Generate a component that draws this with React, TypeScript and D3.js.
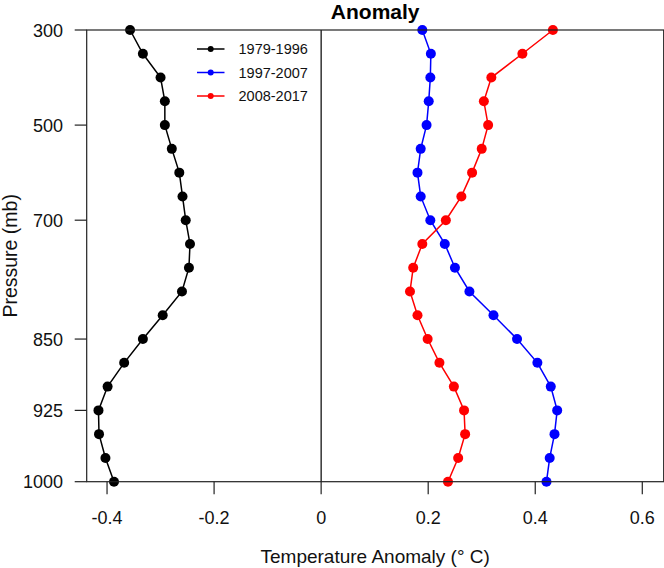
import React from "react";
import * as d3 from "d3";

const levels = [300, 350, 400, 450, 500, 550, 600, 650, 700, 750, 775, 800, 825, 850, 875, 900, 925, 950, 975, 1000];
const tickLevels = [300, 500, 700, 850, 925, 1000];
const xTicks = [-0.4, -0.2, 0, 0.2, 0.4, 0.6];
const xTickLabels = ["-0.4", "-0.2", "0", "0.2", "0.4", "0.6"];

const series1979 = [-0.357, -0.333, -0.300, -0.292, -0.292, -0.279, -0.265, -0.259, -0.253, -0.245, -0.247, -0.260, -0.296, -0.333, -0.368, -0.399, -0.416, -0.415, -0.403, -0.387];
const series1997 = [0.189, 0.205, 0.204, 0.201, 0.197, 0.186, 0.180, 0.186, 0.204, 0.231, 0.250, 0.277, 0.322, 0.366, 0.404, 0.429, 0.441, 0.436, 0.427, 0.421];
const series2008 = [0.433, 0.376, 0.318, 0.304, 0.312, 0.300, 0.282, 0.262, 0.233, 0.189, 0.172, 0.166, 0.180, 0.199, 0.221, 0.248, 0.267, 0.269, 0.256, 0.237];

const seriesNames = ["1979-1996", "1997-2007", "2008-2017"];
const seriesColors = ["#000000", "#0000ff", "#ff0000"];
const allSeries = [series1979, series1997, series2008];

const W = 664;
const H = 568;
const left = 86.7;
const right = 663.7;
const top = 30;
const bottom = 481.7;

export default function App() {
  const x = d3.scaleLinear().domain([-0.438, 0.64]).range([left, right]);
  const y = d3.scalePoint<number>().domain(levels).range([top, bottom]);
  const font = "Arial, 'Liberation Sans', sans-serif";

  const line = (vals: number[]) =>
    d3.line<number>()
      .x((d) => x(d))
      .y((_, i) => y(levels[i]) as number)(vals) as string;

  return (
    <svg width={W} height={H} style={{ position: "absolute", left: 0, top: 0, display: "block", background: "#fff" }} fontFamily={font}>
      <rect x={0} y={0} width={W} height={H} fill="#fff" />
      {/* zero line */}
      <line x1={x(0)} x2={x(0)} y1={top} y2={bottom} stroke="#000" strokeWidth={1.2} />
      {/* series */}
      {allSeries.map((vals, s) => (
        <g key={s}>
          <path d={line(vals)} fill="none" stroke={seriesColors[s]} strokeWidth={1.5} />
          {vals.map((v, i) => (
            <circle key={i} cx={x(v)} cy={y(levels[i]) as number} r={5} fill={seriesColors[s]} />
          ))}
        </g>
      ))}
      {/* frame */}
      <rect x={left} y={top} width={right - left} height={bottom - top} fill="none" stroke="#222" strokeWidth={1.2} />
      {/* y axis ticks */}
      {tickLevels.map((lv) => (
        <g key={lv}>
          <line x1={left - 12} x2={left} y1={y(lv) as number} y2={y(lv) as number} stroke="#222" strokeWidth={1.2} />
          <text x={63} y={(y(lv) as number) + 6.5} fontSize={18} textAnchor="end" fill="#111">{lv}</text>
        </g>
      ))}
      {/* x axis ticks */}
      {xTicks.map((t, i) => (
        <g key={t}>
          <line x1={x(t)} x2={x(t)} y1={bottom} y2={bottom + 12.5} stroke="#222" strokeWidth={1.2} />
          <text x={x(t)} y={523.5} fontSize={18} textAnchor="middle" fill="#111">{xTickLabels[i]}</text>
        </g>
      ))}
      {/* titles */}
      <text x={(left + right) / 2} y={18.5} fontSize={21} fontWeight="bold" textAnchor="middle" fill="#000">Anomaly</text>
      <text x={(left + right) / 2} y={563} fontSize={19} textAnchor="middle" fill="#111">Temperature Anomaly (° C)</text>
      <text transform={`translate(17,${(top + bottom) / 2}) rotate(-90)`} fontSize={19.5} textAnchor="middle" fill="#111">Pressure (mb)</text>
      {/* legend */}
      {seriesNames.map((name, i) => {
        const ly = 49 + i * 23.5;
        return (
          <g key={name}>
            <line x1={197} x2={224.5} y1={ly} y2={ly} stroke={seriesColors[i]} strokeWidth={1.5} />
            <circle cx={210.7} cy={ly} r={3} fill={seriesColors[i]} />
            <text x={238.5} y={ly + 5} fontSize={14.5} fill="#111">{name}</text>
          </g>
        );
      })}
    </svg>
  );
}
